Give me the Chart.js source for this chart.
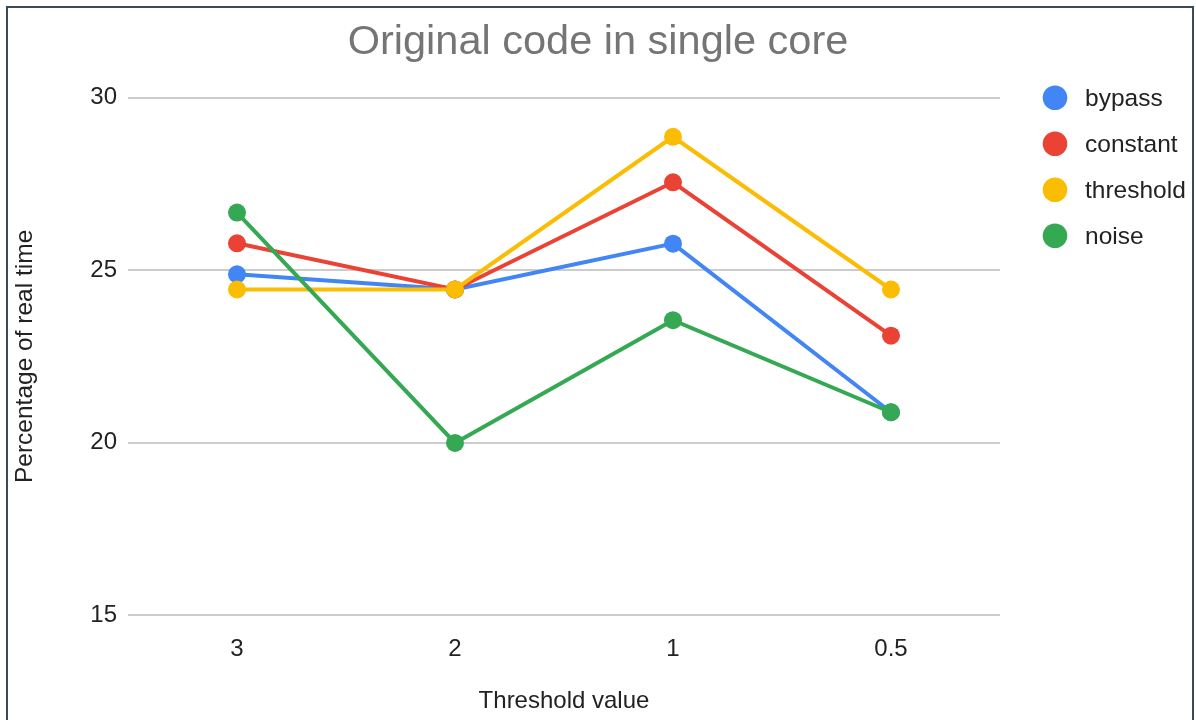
<!DOCTYPE html>
<html>
<head>
<meta charset="utf-8">
<script src="https://cdn.jsdelivr.net/npm/chart.js@4.4.0/dist/chart.umd.min.js"></script>
<style>
  body { margin: 0; background: #fff; }
  #wrap { position: relative; width: 1196px; height: 720px; overflow: hidden; }
  #frame { position: absolute; left: 6px; top: 6px; width: 1184px; height: 800px; border: 2px solid #3b4a53; pointer-events: none; }
</style>
</head>
<body>
<div id="wrap">
  <canvas id="chart" width="1196" height="720"></canvas>
  <div id="frame"></div>
</div>
<script>
var thresholds = ['3', '2', '1', '0.5'];
var bypass = [24.88, 24.44, 25.77, 20.88];
var constant = [25.78, 24.44, 27.55, 23.10];
var threshold = [24.44, 24.44, 28.87, 24.44];
var noise = [26.67, 19.99, 23.55, 20.88];
var yTicks = [15, 20, 25, 30];

var FONT = 'Arial, "Liberation Sans", sans-serif';
var TXT = '#222222';

function makeSet(label, data, color, order) {
	return {
		label: label,
		data: data,
		borderColor: color,
		backgroundColor: color,
		borderWidth: 4,
		pointRadius: 9,
		pointBorderWidth: 0,
		pointHoverRadius: 9,
		tension: 0,
		order: order
	};
}

// legend drawn on the right, next to the plot
var sideLegend = {
	id: 'sideLegend',
	afterDraw: function(chart) {
		var ctx = chart.ctx;
		var x0 = chart.chartArea.right + 55;
		var y0 = chart.chartArea.top;
		ctx.save();
		ctx.font = '24.5px ' + FONT;
		ctx.textBaseline = 'middle';
		ctx.textAlign = 'left';
		chart.data.datasets.forEach(function(ds, i) {
			var y = y0 + i * 46;
			ctx.beginPath();
			ctx.arc(x0, y, 12.3, 0, Math.PI * 2);
			ctx.fillStyle = ds.borderColor;
			ctx.fill();
			ctx.fillStyle = TXT;
			ctx.fillText(ds.label, x0 + 30, y + 1);
		});
		ctx.restore();
	}
};

var ctx = document.getElementById('chart').getContext('2d');
new Chart(ctx, {
	type: 'line',
	data: {
		labels: thresholds,
		datasets: [
			makeSet('bypass', bypass, '#4285F4', 4),
			makeSet('constant', constant, '#EA4335', 3),
			makeSet('threshold', threshold, '#FBBC04', 2),
			makeSet('noise', noise, '#34A853', 1)
		]
	},
	options: {
		responsive: false,
		animation: false,
		devicePixelRatio: 1,
		layout: { padding: 0 },
		plugins: {
			legend: { display: false },
			tooltip: { enabled: false },
			title: {
				display: true,
				text: 'Original code in single core',
				color: '#757575',
				font: { family: FONT, size: 41.5, weight: 'normal' },
				padding: { top: 18, bottom: 30 }
			}
		},
		scales: {
			x: {
				offset: true,
				grid: { display: false },
				border: { display: false },
				ticks: { color: TXT, font: { family: FONT, size: 24 }, padding: 12 },
				title: {
					display: true,
					text: 'Threshold value',
					color: TXT,
					font: { family: FONT, size: 24 },
					padding: { top: 0, bottom: 4 }
				},
				afterFit: function(s) { s.height = 105; }
			},
			y: {
				min: 15,
				max: 30,
				afterBuildTicks: function(s) {
					s.ticks = yTicks.map(function(v) { return { value: v }; });
				},
				grid: { color: '#cccccc', lineWidth: 2, drawTicks: false },
				border: { display: false },
				ticks: { color: TXT, font: { family: FONT, size: 24 }, padding: 11 },
				title: {
					display: true,
					text: 'Percentage of real time',
					color: TXT,
					font: { family: FONT, size: 24.5 },
					padding: { top: 11, bottom: 0 }
				},
				afterFit: function(s) { s.width = 128; }
			},
			legendSpace: {
				type: 'linear',
				position: 'right',
				grid: { display: false },
				border: { display: false },
				ticks: { display: false },
				afterFit: function(s) { s.width = 196; }
			}
		}
	},
	plugins: [sideLegend]
});
</script>
</body>
</html>
